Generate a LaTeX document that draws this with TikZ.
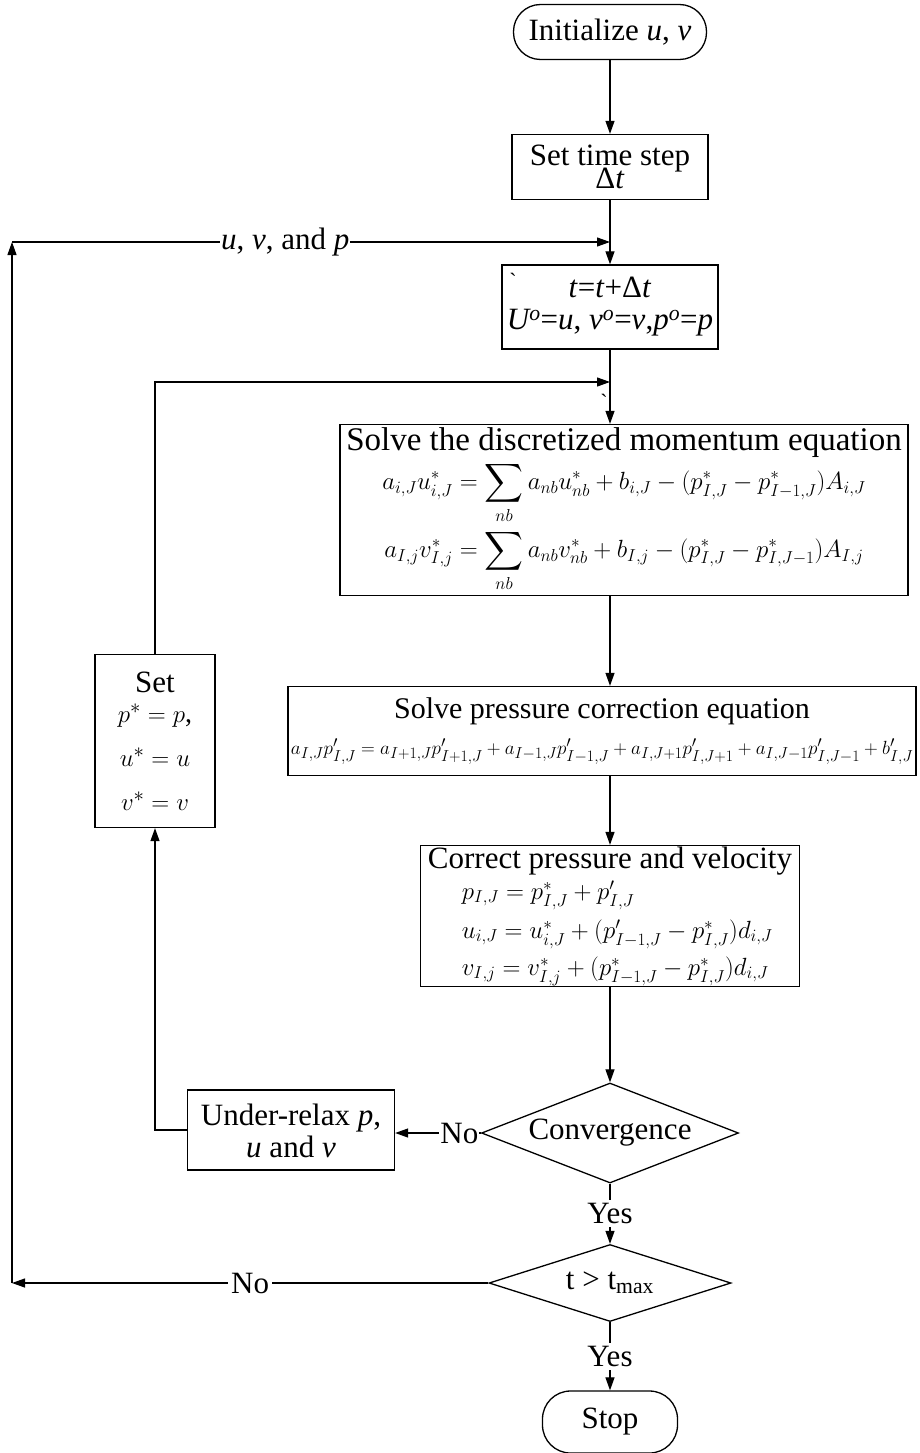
\documentclass[tikz,border=0pt]{standalone}
\usepackage{amsmath,amssymb}
\usepackage{fontspec}
\setmainfont{Liberation Serif}
\usepackage{tikz}
\usetikzlibrary{arrows.meta,positioning,shapes.geometric,calc}

\begin{document}
\begin{tikzpicture}[x=1pt,y=-1pt,
    every node/.style={font=\fontsize{31}{36}\selectfont},
    process/.style={draw,line width=1.3pt,align=center,inner sep=2pt},
    terminal/.style={draw,line width=1.3pt,rounded corners=27pt,align=center},
    decision/.style={draw,diamond,line width=1.3pt,inner sep=0pt,align=center},
    arr/.style={-{Triangle[length=13pt,width=9pt]},line width=1.2pt},
    lbl/.style={fill=white,inner sep=3pt},
  ]
  \useasboundingbox (0,0) rectangle (919,1453);

  \node[terminal,minimum width=193pt,minimum height=55pt] (init) at (610,32)
    {Initialize \textit{u}, \textit{v}};
  \node[process,minimum width=196pt,minimum height=65pt] (setdt) at (610,167)
    {Set time step\\[-13pt]Δ\textit{t}};
  \node[process,minimum width=216pt,minimum height=84pt] (tnew) at (610,307)
    {\textit{t}=\textit{t}+Δ\textit{t}\\[-4pt]
     \textit{U\textsuperscript{o}}=\textit{u}, \textit{v\textsuperscript{o}}=\textit{v},\textit{p\textsuperscript{o}}=\textit{p}};
  \node[font=\fontsize{22}{22}\selectfont] (tick1) at (513,281) {\textasciigrave};
  \node[font=\fontsize{22}{22}\selectfont] (tick2) at (604,402) {\textasciigrave};

  \node[process,minimum width=568pt,minimum height=171pt,inner sep=0pt] (mom) at (624,510)
    {{\fontsize{33}{36}\selectfont Solve the discretized momentum equation}\\[3pt]
     {\fontsize{27}{29}\selectfont $\displaystyle a_{i,J}u^*_{i,J}=\sum_{nb}a_{nb}u^*_{nb}+b_{i,J}-(p^*_{I,J}-p^*_{I-1,J})A_{i,J}$}\\[4pt]
     {\fontsize{27}{29}\selectfont $\displaystyle a_{I,j}v^*_{I,j}=\sum_{nb}a_{nb}v^*_{nb}+b_{I,j}-(p^*_{I,J}-p^*_{I,J-1})A_{I,j}$}};

  \node[process,minimum width=628pt,minimum height=89pt] (press) at (602,731)
    {{\fontsize{30}{34}\selectfont Solve pressure correction equation}\\
     \resizebox{622pt}{!}{$a_{I,J}p'_{I,J}=a_{I+1,J}p'_{I+1,J}+a_{I-1,J}p'_{I-1,J}+a_{I,J+1}p'_{I,J+1}+a_{I,J-1}p'_{I,J-1}+b'_{I,J}$}};

  \node[process,minimum width=379pt,minimum height=137pt,align=left,inner sep=1pt] (correct) at (610,916)
    {Correct pressure and velocity\\[-5pt]
     {\fontsize{27}{30}\selectfont\hspace*{34pt}$p_{I,J}=p^*_{I,J}+p'_{I,J}$}\\[3pt]
     {\fontsize{27}{30}\selectfont\hspace*{34pt}$u_{i,J}=u^*_{i,J}+(p'_{I-1,J}-p^*_{I,J})d_{i,J}$}\\[1pt]
     {\fontsize{27}{30}\selectfont\hspace*{34pt}$v_{I,j}=v^*_{I,j}+(p^*_{I-1,J}-p^*_{I,J})d_{i,J}$}};

  \node[process,minimum width=120pt,minimum height=173pt] (setstar) at (155,741)
    {Set\\[-6pt]{\fontsize{28}{32}\selectfont $p^*=p$,}\\[8pt]
     {\fontsize{28}{32}\selectfont $u^*=u$}\\[8pt]{\fontsize{28}{32}\selectfont $v^*=v$}};

  \node[decision,aspect=2.57,minimum width=257pt,minimum height=100pt] (conv) at (610,1133)
    {Convergence};
  \node[process,minimum width=207pt,minimum height=80pt] (relax) at (291,1130)
    {\mbox{}\\[-12pt]Under-relax \textit{p},\\[-4pt]\textit{u} and \textit{v}};
  \node[decision,aspect=3.14,minimum width=242pt,minimum height=77pt] (tmax) at (610,1283)
    {t > t\textsubscript{max}};
  \node[terminal,minimum width=135pt,minimum height=62pt,rounded corners=28pt] (stop) at (610,1422)
    {Stop};

  \coordinate (ltop) at (12,242);
  \coordinate (jmid) at (610,382);

  \draw[arr] (init) -- (setdt);
  \draw[arr] (setdt) -- (tnew);
  \draw[arr] (tmax.west) -- node[lbl]{No} (tmax.west -| ltop);
  \draw[arr] (tmax.west -| ltop) -- (ltop);
  \draw[arr] (ltop) -- node[lbl,inner sep=1pt,pos=0.457]{\textit{u}, \textit{v}, and \textit{p}} (ltop -| setdt);
  \draw[arr] (tnew.south) -- (tnew.south |- mom.north);
  \draw[arr] (setstar.north) |- (jmid);
  \draw[arr] (tnew.south |- mom.south) -- (tnew.south |- press.north);
  \draw[arr] (tnew.south |- press.south) -- (correct.north);
  \draw[arr] (correct.south) -- (conv.north);
  \draw[arr] (conv.west) -- node[lbl,inner sep=1pt,pos=0.25]{No} (conv.west -| relax.east);
  \draw[arr] (relax.west) -| (setstar.south);
  \draw[arr] (conv.south) -- node[lbl]{Yes} (tmax.north);
  \draw[arr] (tmax.south) -- node[lbl]{Yes} (stop.north);
\end{tikzpicture}
\end{document}
